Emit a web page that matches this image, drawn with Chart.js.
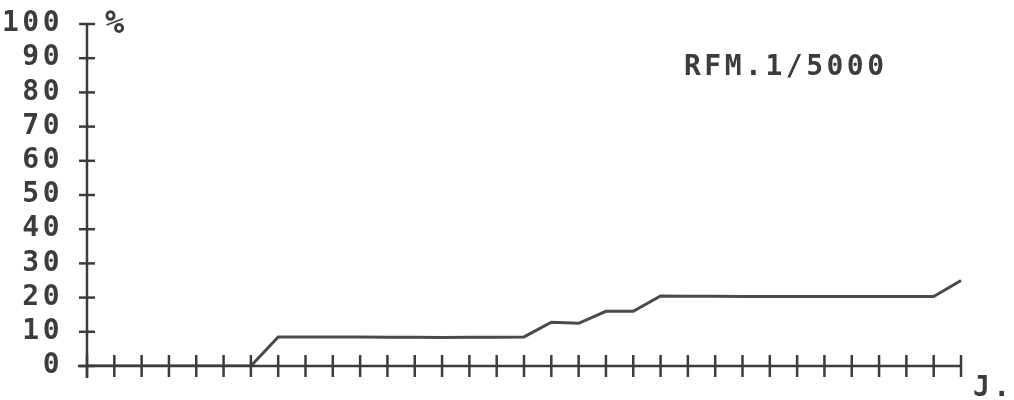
<!DOCTYPE html>
<html>
<head>
<meta charset="utf-8">
<script src="https://cdn.jsdelivr.net/npm/chart.js@4.4.1/dist/chart.umd.min.js"></script>
<style>
  html, body { margin: 0; padding: 0; background: #fff; }
  #wrap { width: 1014px; height: 400px; }
</style>
</head>
<body>
<div id="wrap"><canvas id="c" width="1014" height="400"></canvas></div>
<script>
// ---- data ----
const days = ['0','1','2','3','4','5','6','7','8','9','10','11','12','13','14','15','16',
              '17','18','19','20','21','22','23','24','25','26','27','28','29','30','31','32'];
const percent = [0, 0, 0, 0, 0, 0, 0, 8.5, 8.5, 8.5, 8.5, 8.4, 8.4, 8.3, 8.4, 8.4, 8.5,
                 12.8, 12.5, 16, 16, 20.5, 20.4, 20.4, 20.3, 20.3, 20.3, 20.3, 20.3, 20.3, 20.3, 20.3, 25];
const yTicks = [0, 10, 20, 30, 40, 50, 60, 70, 80, 90, 100];
const titleText = 'RFM.1/5000';
const yUnit = '%';
const xUnit = 'J.';

const INK = '#3c3c3c';
const FAMILY = '"DejaVu Sans Mono", "Liberation Mono", monospace';
const FONT = 'bold 28px ' + FAMILY;
const SPACING = '3.5px';

const spacingPlugin = {
  id: 'spacing',
  beforeLayout(chart) { chart.ctx.letterSpacing = SPACING; },
  beforeDraw(chart) { chart.ctx.letterSpacing = SPACING; }
};

const decorPlugin = {
  id: 'decor',
  afterDraw(chart) {
    const ctx = chart.ctx;
    const xs = chart.scales.x, ys = chart.scales.y;
    const ax = xs.left;
    const ay = ys.getPixelForValue(0);
    const top = ys.getPixelForValue(100);
    ctx.save();
    ctx.strokeStyle = INK;
    ctx.lineWidth = 2.5;
    ctx.lineCap = 'butt';
    ctx.beginPath();
    ctx.moveTo(ax, top); ctx.lineTo(ax, ay + 12);
    ctx.stroke();
    ctx.beginPath();
    ctx.moveTo(ax - 9, ay); ctx.lineTo(xs.right, ay);
    ctx.stroke();
    yTicks.forEach(v => {
      const py = ys.getPixelForValue(v);
      ctx.beginPath();
      ctx.moveTo(ax - 8, py); ctx.lineTo(ax + 8, py);
      ctx.stroke();
    });
    for (let i = 0; i < days.length; i++) {
      const px = xs.getPixelForValue(i);
      ctx.beginPath();
      ctx.moveTo(px, ay - 11); ctx.lineTo(px, ay + 11);
      ctx.stroke();
    }
    ctx.fillStyle = INK;
    ctx.letterSpacing = SPACING;
    ctx.textBaseline = 'alphabetic';
    ctx.textAlign = 'left';
    ctx.font = 'bold 32px ' + FAMILY;
    ctx.fillText(yUnit, ax + 18, top + 9);
    ctx.font = FONT;
    ctx.fillText(titleText, 684, 75);
    ctx.fillText(xUnit, 973, ay + 30);
    ctx.restore();
  }
};

new Chart(document.getElementById('c'), {
  type: 'line',
  data: {
    labels: days,
    datasets: [{
      data: percent,
      borderColor: '#4a4a4a',
      borderWidth: 3,
      pointRadius: 0,
      tension: 0,
      fill: false
    }]
  },
  options: {
    responsive: false,
    animation: false,
    layout: { padding: { top: 24, right: 53, left: 0, bottom: 0 } },
    plugins: { legend: { display: false }, tooltip: { enabled: false } },
    scales: {
      x: {
        type: 'category',
        offset: false,
        grid: { display: false, drawTicks: false },
        border: { display: false },
        ticks: { display: false },
        afterFit(s) { s.height = 34; s.paddingLeft = 0; s.paddingRight = 0; }
      },
      y: {
        min: 0, max: 100,
        afterBuildTicks(s) { s.ticks = yTicks.map(v => ({ value: v })); },
        grid: { display: false, drawTicks: false },
        border: { display: false },
        ticks: {
          color: INK,
          autoSkip: false,
          font: { family: FAMILY, size: 28, weight: 'bold' },
          padding: 24
        },
        afterFit(s) { s.width = 87; s.paddingTop = 0; s.paddingBottom = 0; }
      }
    }
  },
  plugins: [spacingPlugin, decorPlugin]
});
</script>
</body>
</html>
